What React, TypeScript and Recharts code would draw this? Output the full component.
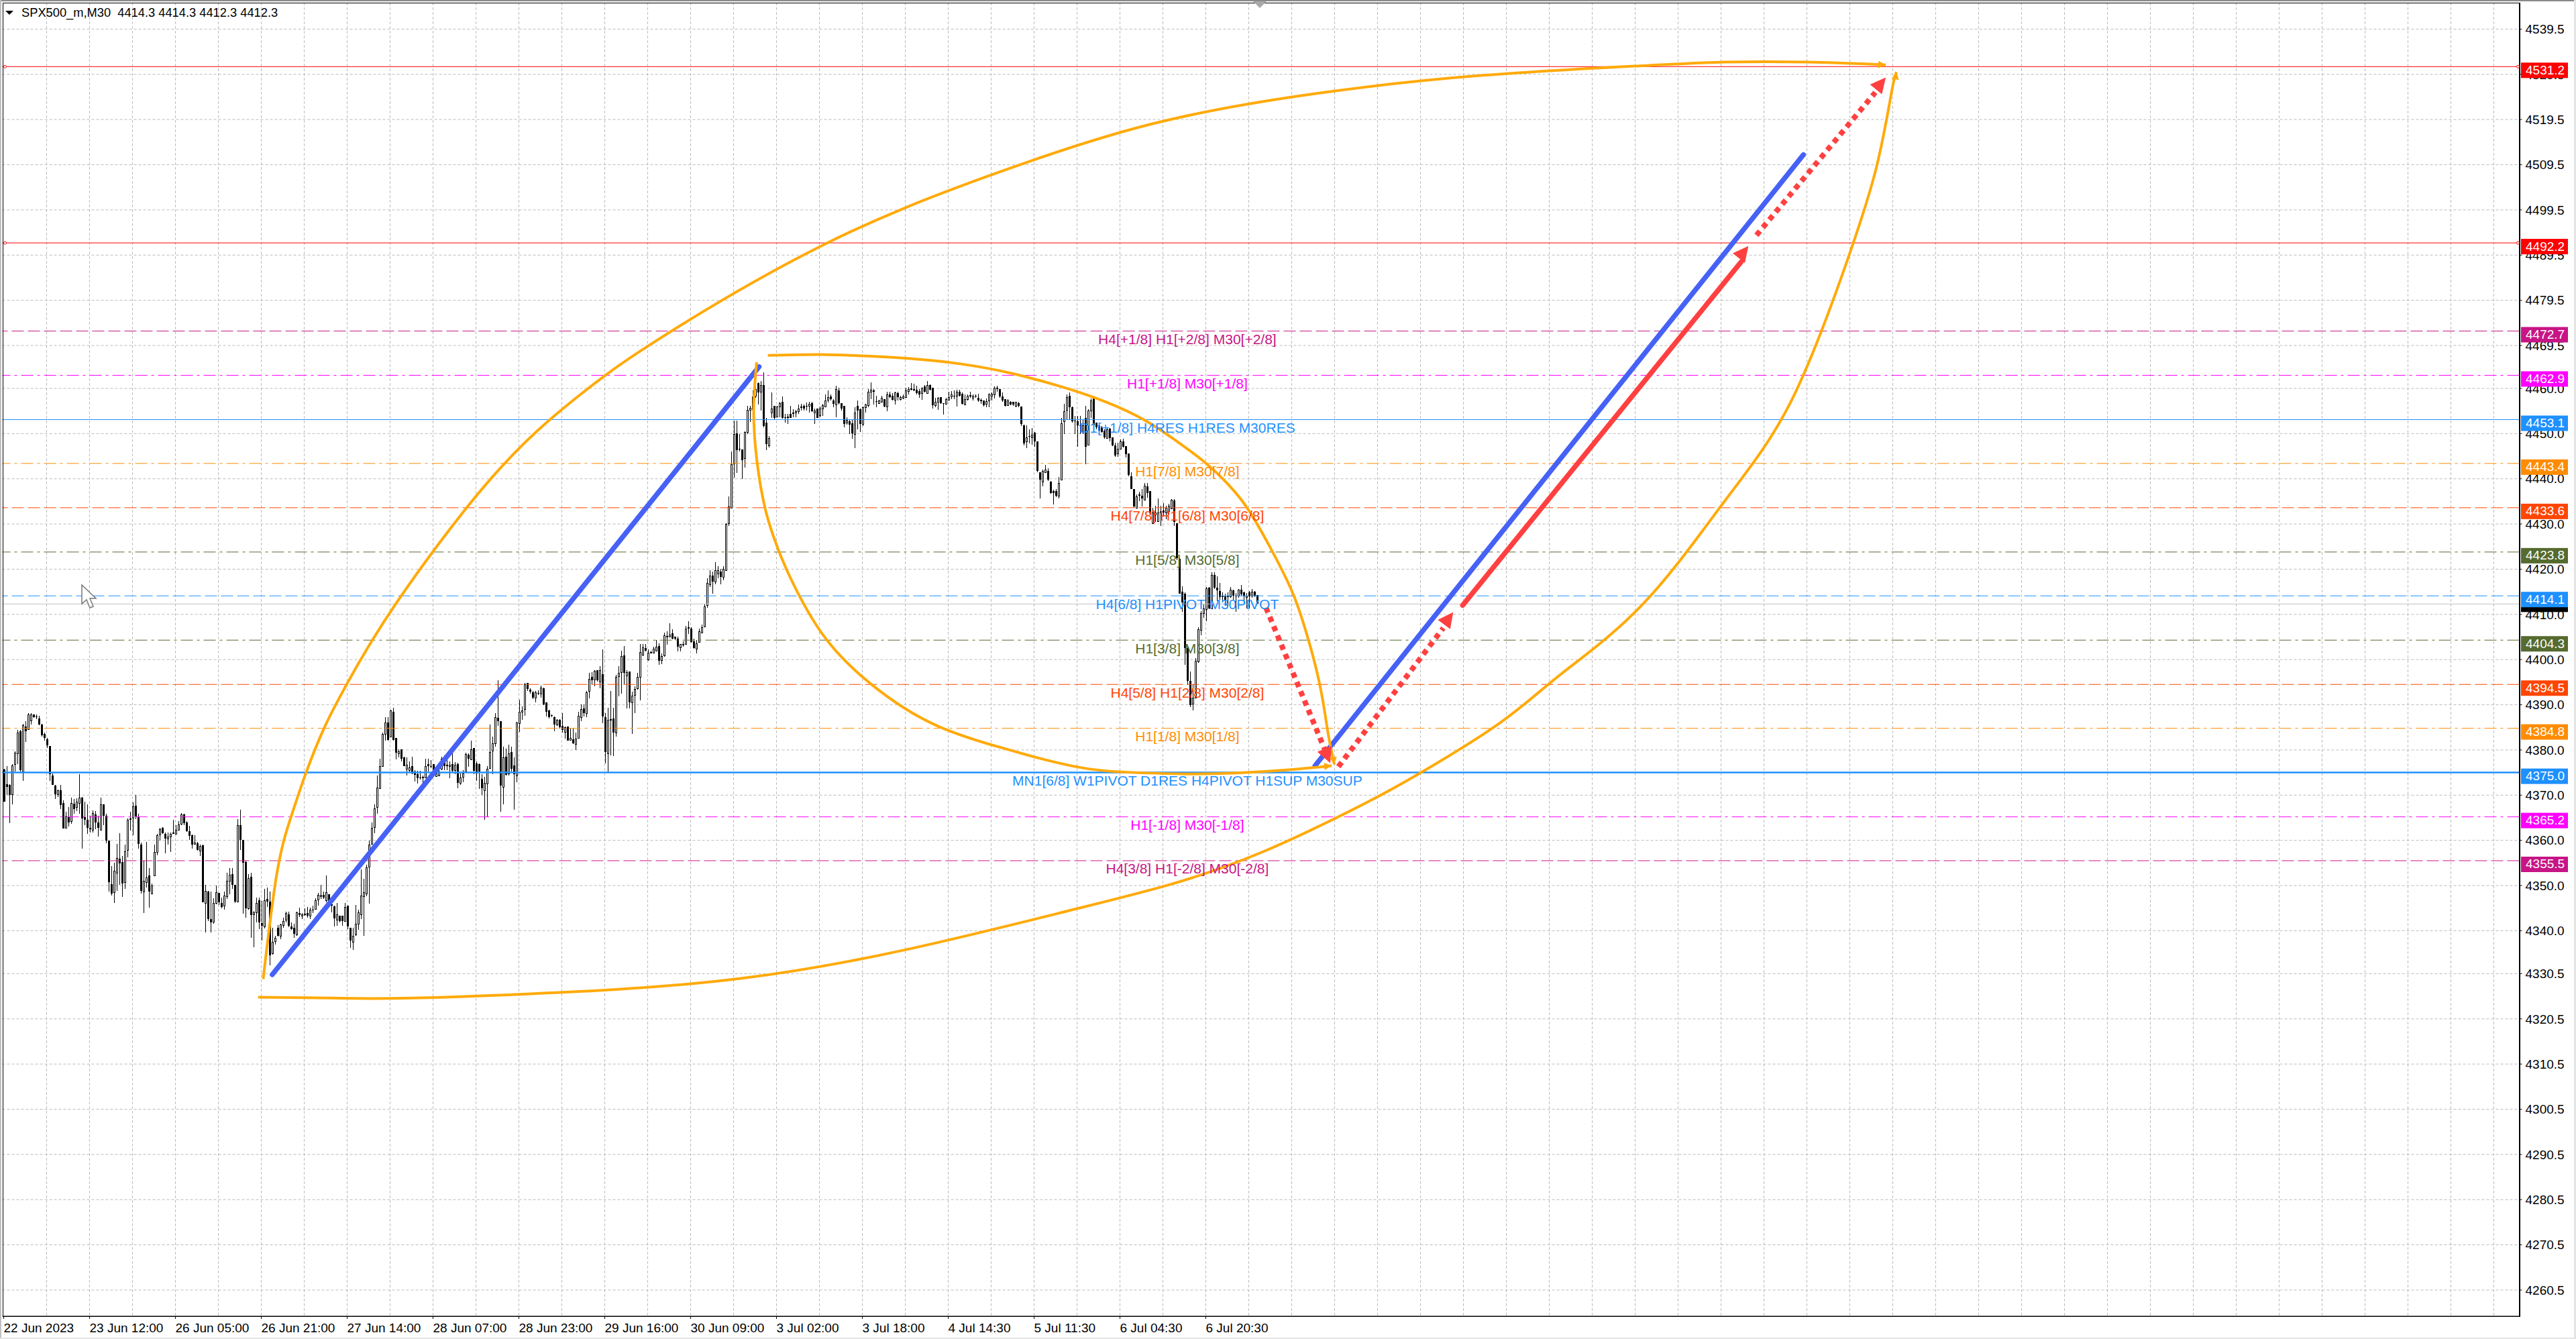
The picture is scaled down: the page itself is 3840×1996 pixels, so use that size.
import { Bar, CartesianGrid, ComposedChart, Line, ReferenceDot, ReferenceLine, XAxis, YAxis } from 'recharts';

type Candle = [number, number, number, number]; // open, high, low, close

const totalBars = 938;

const candles22Jun: Candle[] = [
  [4375.7,4375.8,4368.6,4368.6],[4372.4,4376.4,4370.0,4371.9],[4372.3,4372.4,4363.8,4370.0],[4370.2,4376.9,4367.9,4376.6],[4376.9,4379.7,4375.3,4379.4],
  [4379.3,4384.5,4376.8,4383.9],[4384.2,4384.5,4375.0,4375.5],[4375.2,4385.8,4373.1,4385.5],[4385.2,4386.4,4381.7,4384.1],[4384.6,4388.2,4384.6,4387.8],
  [4386.5,4388.2,4385.7,4387.9],[4387.8,4387.9,4387.1,4387.2],[4387.4,4387.9,4386.8,4387.2],[4386.9,4387.5,4385.5,4385.7],[4385.7,4385.8,4383.0,4383.2],
  [4383.6,4383.8,4382.0,4382.6],[4382.4,4382.6,4380.5,4381.1],[4380.9,4380.9,4373.1,4374.7],[4374.4,4374.8,4372.2,4372.2],[4372.1,4372.2,4369.1,4370.2],
  [4370.2,4371.3,4369.6,4371.1],[4371.1,4372.2,4366.9,4367.8],[4368.2,4368.9,4362.6,4362.6],[4362.7,4366.4,4362.6,4365.3],[4365.2,4367.4,4363.1,4364.0],
  [4364.2,4369.4,4363.7,4368.3],[4368.1,4369.1,4365.9,4367.0],[4367.4,4369.3,4366.5,4368.6],[4368.3,4374.7,4365.9,4369.4],[4369.4,4369.6,4358.2,4364.8],
  [4365.2,4368.6,4363.4,4364.5],[4364.5,4367.9,4361.5,4362.8],[4362.6,4365.4,4361.7,4362.8],[4362.4,4366.6,4361.8,4366.1],[4365.7,4366.5,4362.5,4363.9],
  [4364.0,4365.4,4360.9,4362.7],[4362.4,4369.5,4362.4,4367.9],[4368.0,4368.0,4363.4,4365.4],[4365.5,4365.9,4359.4,4360.0],[4359.9,4359.9,4348.6,4350.7],
  [4350.3,4354.3,4347.8,4348.2],[4348.5,4355.0,4346.1,4353.3],[4352.8,4359.2,4348.8,4356.1],[4356.0,4361.6,4350.2,4354.9],[4355.2,4356.5,4347.5,4350.5],
  [4350.7,4359.0,4349.2,4357.6],[4357.8,4364.9,4356.2,4364.6],[4364.8,4366.4,4362.2,4364.9],[4365.0,4368.4,4361.2,4367.5],[4367.7,4370.0,4364.7,4365.3],
  [4365.1,4365.9,4358.1,4359.2],[4359.1,4359.5,4348.2,4348.8],[4348.7,4355.5,4343.9,4351.0],[4350.8,4359.6,4349.6,4351.8],[4352.3,4353.8,4345.1,4348.6],
  [4348.2,4350.5,4348.2,4350.0],[4352.2,4359.0,4352.2,4357.4],[4357.4,4361.5,4356.7,4361.2],[4361.3,4362.8,4360.0,4362.5],[4362.8,4362.9,4361.4,4361.6],
  [4361.4,4361.8,4357.1,4360.4],[4360.4,4361.7,4359.0,4360.9],[4360.9,4361.7,4357.4,4361.4],[4361.7,4364.5,4361.4,4361.8],[4361.5,4363.4,4361.3,4362.4],
  [4362.4,4364.3,4362.3,4363.5],[4363.6,4366.1,4363.4,4365.7],[4365.7,4365.9,4363.4,4363.8],[4364.0,4364.3,4361.9,4362.1],[4362.0,4363.2,4360.1,4361.0],
  [4361.2,4361.3,4358.1,4359.0],[4359.2,4361.2,4359.0,4359.5],[4359.4,4359.7,4357.7,4357.8],[4357.7,4359.0,4356.6,4358.8],[4358.9,4359.0,4346.3,4346.3],
  [4346.1,4350.1,4339.6,4348.8],[4348.7,4348.8,4342.1,4342.6],[4342.6,4348.6,4339.6,4341.9],[4342.0,4347.2,4341.6,4346.2],[4346.1,4350.0,4345.8,4348.5],
  [4348.3,4348.3,4345.7,4346.3],[4346.1,4347.3,4345.0,4345.2],[4345.5,4348.6,4344.6,4347.8],[4347.7,4352.8,4347.1,4351.1],[4351.0,4353.8,4348.1,4352.4],
  [4352.5,4353.8,4349.2,4350.1],[4350.1,4350.1,4346.1,4346.5],[4346.5,4364.7,4346.5,4363.4],[4363.3,4366.8,4357.8,4360.1],[4360.1,4360.1,4343.7,4355.0],
  [4355.2,4355.5,4342.9,4344.9],[4345.0,4352.5,4344.6,4351.6],[4351.9,4352.8,4338.4,4343.5],[4343.6,4344.4,4336.4,4344.0],[4344.0,4347.3,4341.9,4346.2],
  [4346.8,4347.3,4340.4,4341.8],[4341.7,4346.6,4337.9,4341.1],[4340.9,4349.3,4340.5,4346.7],[4347.0,4349.5,4345.2,4346.5],[4346.4,4348.6,4332.3,4334.6],
];

const candles26Jun: Candle[] = [
  [4335.0,4340.6,4334.7,4337.6],[4337.7,4338.9,4336.9,4338.4],[4340.6,4341.2,4338.7,4338.8],[4338.9,4341.5,4338.2,4341.4],[4341.2,4342.9,4340.6,4342.1],
  [4342.4,4344.2,4341.9,4343.9],[4343.6,4344.2,4340.8,4341.1],[4341.0,4341.9,4340.2,4340.3],[4340.6,4341.6,4338.4,4339.3],[4339.2,4344.2,4338.9,4344.0],
  [4343.9,4345.1,4343.1,4343.5],[4343.3,4343.9,4342.6,4343.6],[4343.7,4344.9,4343.4,4343.5],[4343.9,4345.3,4342.9,4343.3],[4343.3,4345.1,4342.6,4344.7],
  [4344.7,4345.6,4343.9,4344.6],[4344.8,4347.2,4344.6,4346.8],[4346.9,4348.3,4345.6,4347.9],[4347.6,4350.2,4347.0,4347.9],[4347.9,4348.6,4347.1,4347.3],
  [4346.8,4352.3,4346.3,4348.5],[4348.1,4348.1,4346.1,4346.3],[4345.8,4346.1,4344.1,4345.6],[4345.4,4345.6,4340.9,4342.7],[4342.4,4346.1,4341.1,4343.6],
  [4343.4,4343.4,4341.9,4342.2],[4343.4,4343.4,4341.1,4342.1],[4342.2,4346.1,4342.1,4345.3],[4345.6,4345.6,4340.4,4340.9],[4340.6,4340.6,4336.2,4337.8],
  [4337.6,4340.6,4335.8,4338.8],[4339.1,4345.7,4338.9,4341.6],[4341.5,4344.7,4340.2,4344.0],[4343.6,4353.5,4342.6,4347.8],[4347.6,4351.5,4338.9,4348.5],
  [4348.2,4354.6,4347.6,4354.0],[4354.1,4360.0,4346.0,4359.1],[4359.2,4363.9,4359.0,4362.8],[4362.9,4367.9,4361.6,4367.1],[4367.3,4374.3,4365.9,4371.7],
  [4371.6,4378.0,4371.4,4376.4],[4376.5,4383.8,4376.3,4383.6],[4383.6,4387.2,4382.0,4386.1],[4386.1,4387.2,4382.0,4382.2],[4382.9,4388.9,4382.9,4388.7],
  [4388.5,4389.4,4382.0,4382.2],[4382.6,4382.6,4377.9,4379.4],[4379.2,4380.1,4378.4,4379.7],[4380.1,4380.2,4377.5,4378.1],[4378.4,4378.5,4376.4,4376.5],
  [4375.9,4378.3,4374.3,4376.7],[4375.5,4377.5,4375.0,4376.1],[4376.4,4378.5,4374.7,4374.8],[4375.3,4375.5,4373.0,4374.5],[4374.7,4375.4,4372.5,4373.7],
  [4373.9,4375.4,4373.5,4373.7],[4374.1,4374.3,4372.6,4373.8],[4373.9,4378.0,4373.9,4376.5],[4376.8,4378.1,4375.3,4376.5],[4376.5,4377.8,4376.0,4376.4],
  [4376.9,4376.9,4375.2,4375.3],[4374.2,4375.5,4374.1,4374.8],[4374.4,4376.0,4374.2,4375.2],[4375.8,4378.5,4375.5,4378.0],[4378.5,4378.8,4375.5,4376.5],
  [4376.7,4377.8,4375.5,4376.5],[4376.5,4377.5,4373.7,4376.7],[4376.8,4379.2,4375.0,4375.4],[4375.5,4377.3,4374.6,4376.7],[4376.8,4377.2,4371.6,4372.7],
  [4372.7,4374.8,4372.3,4373.9],[4374.0,4375.5,4372.8,4374.8],[4375.3,4379.4,4375.0,4379.1],[4379.0,4379.2,4376.3,4378.0],[4377.9,4382.1,4377.8,4380.2],
  [4380.5,4380.5,4374.6,4375.4],[4377.0,4377.5,4373.1,4374.8],[4376.9,4377.0,4371.4,4375.3],[4373.6,4374.7,4370.1,4371.5],[4371.1,4374.1,4364.5,4372.7],
  [4372.6,4376.5,4365.1,4375.9],[4376.0,4385.7,4375.9,4379.6],[4379.8,4383.0,4374.6,4381.5],[4381.5,4388.2,4380.7,4387.2],[4387.1,4395.5,4385.4,4386.3],
  [4386.4,4386.4,4366.4,4372.1],[4371.9,4380.7,4368.0,4378.4],[4378.5,4380.3,4374.4,4374.5],[4374.8,4381.2,4374.3,4379.3],[4379.5,4380.7,4375.2,4375.9],
  [4376.6,4378.3,4366.8,4374.7],[4374.3,4386.2,4372.8,4386.1],[4385.9,4391.1,4384.0,4388.5],[4388.4,4389.6,4386.7,4388.7],[4389.1,4394.8,4387.5,4394.6],
  [4394.8,4394.9,4393.0,4393.5],[4393.4,4393.7,4392.4,4392.9],[4392.8,4393.1,4391.2,4391.5],[4391.5,4393.1,4390.5,4392.8],[4392.6,4393.2,4392.2,4392.4],
];

const candles29Jun: Candle[] = [
  [4392.4,4394.3,4391.6,4393.8],[4393.6,4393.8,4390.0,4390.1],[4390.6,4390.6,4387.4,4388.4],[4388.8,4388.9,4386.9,4387.2],[4387.7,4387.8,4387.2,4387.5],
  [4387.3,4387.4,4384.1,4385.7],[4385.7,4386.8,4385.4,4386.6],[4386.6,4386.8,4384.8,4385.0],[4385.4,4388.2,4383.8,4384.5],[4384.0,4385.2,4382.5,4385.0],
  [4385.2,4385.2,4382.0,4382.1],[4382.2,4384.7,4382.0,4382.6],[4382.4,4384.7,4381.3,4381.5],[4381.3,4383.8,4380.0,4382.5],[4382.6,4388.5,4382.5,4387.6],
  [4387.3,4390.1,4386.4,4389.0],[4389.2,4390.1,4387.4,4388.1],[4388.2,4393.0,4387.3,4392.8],[4393.0,4397.1,4391.4,4395.7],[4396.1,4397.2,4394.6,4395.5],
  [4395.6,4397.6,4394.1,4397.5],[4397.7,4397.7,4395.1,4395.5],[4395.2,4398.6,4393.6,4397.7],[4396.8,4402.3,4385.9,4387.4],[4387.3,4388.2,4377.0,4379.5],
  [4379.3,4389.4,4375.0,4386.6],[4386.7,4393.1,4378.8,4386.8],[4387.0,4389.3,4378.7,4383.8],[4383.8,4396.6,4383.0,4396.2],[4396.3,4398.6,4391.9,4397.1],
  [4397.2,4402.0,4392.4,4400.8],[4400.9,4403.0,4394.5,4397.1],[4396.5,4397.6,4389.2,4397.2],[4397.3,4397.4,4389.2,4390.6],[4390.5,4392.9,4383.5,4392.0],
  [4392.1,4394.1,4388.2,4393.5],[4393.6,4397.1,4393.4,4396.2],[4396.1,4403.4,4391.0,4401.7],[4401.0,4403.4,4400.8,4402.7],[4402.6,4403.4,4401.8,4401.9],
  [4400.0,4402.3,4399.8,4401.5],[4401.7,4402.0,4401.3,4401.4],[4401.5,4402.8,4401.3,4402.4],[4401.9,4404.3,4401.9,4402.8],[4403.0,4403.6,4398.8,4399.8],
  [4399.9,4401.4,4399.0,4400.8],[4400.9,4406.0,4400.6,4405.3],[4405.2,4406.2,4403.3,4405.0],[4405.1,4408.1,4405.0,4405.5],[4405.8,4406.7,4404.5,4404.7],
  [4405.1,4405.1,4404.3,4404.7],[4404.6,4405.1,4401.8,4402.8],[4402.7,4403.5,4401.8,4403.4],[4403.4,4404.0,4402.8,4403.2],[4403.4,4407.5,4403.4,4406.9],
  [4407.1,4408.5,4405.7,4406.9],[4406.9,4407.1,4403.8,4403.9],[4404.0,4404.7,4402.4,4402.5],[4402.4,4404.3,4401.4,4403.6],[4403.9,4406.9,4403.8,4406.3],
  [4406.0,4407.7,4405.9,4407.1],[4407.3,4412.4,4407.2,4411.7],[4412.0,4418.0,4411.5,4416.9],[4416.6,4419.8,4416.1,4418.6],[4418.6,4419.5,4414.6,4417.2],
  [4417.2,4421.6,4416.6,4419.8],[4419.1,4420.6,4418.0,4419.7],[4419.5,4420.1,4416.6,4418.3],[4418.3,4420.6,4417.5,4420.0],[4419.8,4430.2,4419.6,4430.0],
  [4430.2,4436.1,4429.6,4433.8],[4433.6,4446.1,4433.5,4443.2],[4443.4,4452.9,4440.3,4449.9],[4450.0,4452.9,4441.3,4446.4],[4446.7,4449.9,4446.0,4446.5],
  [4446.5,4446.5,4440.0,4444.1],[4444.5,4450.5,4442.5,4450.4],[4450.3,4456.1,4449.9,4455.2],[4455.3,4456.1,4452.6,4455.7],[4455.4,4459.6,4454.6,4458.2],
  [4458.3,4460.3,4457.9,4459.8],[4461.2,4461.3,4456.4,4459.1],[4459.3,4461.6,4455.1,4460.8],[4460.7,4463.5,4451.4,4451.7],[4452.4,4453.5,4446.4,4447.7],
  [4447.4,4449.4,4447.0,4449.0],
];

const candles3Jul: Candle[] = [
  [4454.6,4459.1,4453.4,4455.6],[4456.1,4456.1,4453.1,4453.4],[4453.8,4456.1,4453.6,4456.0],[4456.0,4457.1,4453.6,4456.8],[4457.0,4458.2,4453.3,4453.4],
  [4453.6,4454.4,4452.4,4453.5],[4453.7,4454.4,4452.2,4453.5],[4454.4,4456.2,4453.4,4453.5],[4454.7,4455.4,4453.6,4454.4],[4454.6,4455.2,4453.6,4455.0],
  [4455.0,4456.4,4454.4,4455.6],[4456.0,4456.6,4455.1,4456.0],[4456.1,4456.4,4455.1,4455.6],[4456.2,4456.9,4455.1,4456.1],[4456.1,4457.1,4454.6,4456.6],
  [4456.7,4457.0,4454.8,4454.9],[4454.7,4455.6,4452.2,4455.1],[4455.5,4455.6,4453.5,4453.5],[4454.0,4456.0,4453.6,4455.6],[4455.5,4456.6,4453.9,4456.3],
  [4456.0,4458.7,4455.9,4457.3],[4457.5,4459.6,4456.9,4458.1],[4458.2,4458.6,4457.4,4457.6],[4457.4,4457.6,4455.9,4456.6],[4456.5,4460.6,4453.6,4459.9],
  [4459.5,4460.2,4456.5,4456.7],[4456.7,4456.7,4455.1,4455.6],[4456.1,4456.1,4451.4,4452.2],[4452.4,4453.6,4452.0,4453.0],[4452.7,4453.2,4449.9,4452.0],
  [4452.3,4453.2,4448.8,4450.0],[4449.9,4455.8,4446.8,4454.7],[4456.1,4457.3,4450.9,4455.1],[4455.4,4455.6,4450.3,4452.2],[4452.2,4456.0,4451.7,4455.8],
  [4455.9,4456.6,4454.6,4456.4],[4456.3,4459.9,4455.9,4459.2],[4459.3,4461.3,4457.6,4459.7],[4459.6,4459.8,4456.5,4459.3],[4457.2,4458.3,4455.8,4457.0],
  [4456.8,4457.5,4456.6,4457.3],[4457.1,4458.3,4457.0,4457.9],[4457.6,4457.6,4455.9,4456.0],[4456.0,4459.3,4455.0,4458.7],[4458.6,4459.2,4457.9,4458.1],
  [4458.3,4458.9,4457.4,4457.5],[4457.5,4459.3,4456.4,4459.1],[4459.0,4459.3,4457.4,4458.0],[4457.6,4458.4,4457.4,4458.1],[4457.9,4458.7,4457.6,4458.2],
  [4458.1,4460.1,4458.0,4459.6],[4459.4,4460.3,4458.7,4459.9],[4460.0,4461.2,4459.6,4459.7],[4459.8,4461.1,4459.4,4459.6],[4459.7,4460.6,4458.7,4458.9],
  [4459.4,4459.8,4457.9,4458.6],[4459.0,4460.3,4457.5,4460.0],[4460.4,4460.8,4459.1,4459.2],[4459.0,4461.6,4458.9,4460.8],[4460.8,4460.9,4459.6,4459.7],
  [4460.1,4460.1,4455.6,4456.3],[4456.3,4457.9,4455.9,4457.0],[4457.0,4458.1,4455.3,4457.9],[4458.1,4458.1,4456.6,4456.7],[4456.7,4456.7,4454.2,4456.6],
  [4456.6,4457.9,4456.4,4457.6],[4457.5,4459.3,4457.3,4458.1],[4458.2,4459.4,4457.6,4458.6],[4458.4,4459.6,4457.6,4458.2],[4458.3,4459.7,4456.0,4459.3],
  [4459.3,4459.7,4458.2,4458.4],[4458.8,4459.1,4456.4,4456.6],[4456.5,4458.6,4456.3,4457.6],[4457.6,4458.6,4457.3,4458.3],[4458.5,4459.3,4457.9,4458.2],
  [4457.9,4458.7,4457.4,4458.4],[4458.4,4458.6,4457.9,4458.2],[4457.9,4458.8,4457.1,4457.3],[4457.5,4457.8,4456.6,4457.2],[4457.3,4457.4,4456.0,4456.3],
  [4456.6,4457.8,4455.9,4457.2],[4457.4,4458.9,4455.9,4458.7],[4458.4,4459.1,4457.4,4458.8],[4458.7,4460.4,4457.8,4460.2],[4460.2,4460.6,4459.3,4459.9],
  [4459.8,4459.9,4457.9,4458.2],[4458.2,4459.1,4457.1,4457.3],[4457.6,4457.6,4456.0,4456.1],[4456.3,4457.6,4456.1,4457.3],[4457.1,4457.2,4456.3,4456.5],
  [4457.0,4457.1,4456.1,4456.5],[4456.1,4457.1,4455.9,4457.0],[4456.8,4457.1,4455.9,4456.1],
];

const candles5Jul: Candle[] = [
  [4456.0,4456.0,4451.7,4452.1],[4451.9,4452.0,4447.4,4447.9],[4448.2,4451.9,4446.8,4449.2],[4449.4,4450.9,4447.9,4449.3],[4449.2,4451.3,4447.5,4449.8],
  [4450.2,4450.4,4447.1,4448.3],[4448.2,4448.3,4441.5,4441.7],[4441.5,4441.5,4435.7,4439.8],[4439.4,4442.0,4438.3,4441.7],[4441.5,4443.1,4441.3,4442.0],
  [4441.8,4442.3,4439.5,4439.8],[4439.4,4439.5,4436.7,4436.8],[4437.3,4437.6,4434.3,4436.9],[4437.3,4437.8,4436.0,4436.2],[4436.2,4440.4,4435.6,4439.1],
  [4439.8,4453.5,4439.7,4452.3],[4452.7,4456.6,4449.9,4455.0],[4455.3,4458.6,4453.1,4458.1],[4458.3,4459.1,4453.1,4455.9],[4455.9,4456.0,4452.4,4452.7],
  [4452.9,4453.9,4449.9,4452.7],[4452.7,4453.9,4447.1,4451.8],[4451.9,4453.9,4449.9,4451.8],[4450.3,4453.0,4449.9,4451.9],[4453.5,4456.2,4443.2,4447.1],
  [4447.5,4455.4,4447.4,4455.1],[4455.1,4457.8,4453.4,4457.4],[4457.7,4457.7,4451.6,4451.9],[4452.4,4452.4,4450.9,4451.4],[4451.8,4452.2,4450.2,4450.7],
  [4451.4,4451.7,4450.2,4450.3],[4450.7,4451.0,4448.9,4449.1],[4449.0,4451.2,4448.8,4450.9],[4451.1,4451.2,4448.2,4449.0],[4449.2,4449.2,4447.2,4447.4],
  [4447.4,4448.0,4444.8,4445.2],[4445.6,4448.0,4444.9,4446.7],[4446.7,4448.7,4446.5,4448.2],[4448.2,4448.9,4447.0,4447.1],[4447.2,4447.2,4444.7,4445.5],
  [4445.6,4445.6,4440.5,4440.9],[4440.5,4441.4,4437.7,4437.8],[4437.7,4437.7,4433.6,4433.8],[4433.6,4436.6,4433.5,4436.1],[4436.5,4437.2,4435.1,4436.6],
  [4436.2,4437.8,4433.8,4435.6],[4435.3,4439.1,4435.2,4438.5],[4438.3,4439.0,4435.8,4436.8],[4437.3,4437.3,4432.1,4432.4],[4430.2,4433.6,4430.2,4432.6],
];

const candles6Jul: Candle[] = [
  [4432.1,4434.0,4430.4,4432.6],[4430.6,4435.7,4430.5,4432.6],[4432.6,4434.0,4429.6,4432.9],[4433.0,4434.6,4431.6,4432.5],[4432.6,4434.0,4431.1,4433.6],
  [4432.9,4434.5,4432.1,4434.0],[4433.5,4435.5,4433.3,4435.3],[4435.2,4435.5,4429.5,4430.4],[4430.1,4430.1,4422.0,4422.5],[4422.3,4422.5,4414.6,4414.6],
  [4415.0,4416.2,4410.5,4412.7],[4414.6,4414.9,4398.8,4402.5],[4402.5,4403.0,4394.4,4395.3],[4395.3,4397.3,4389.5,4390.0],[4390.2,4394.6,4388.8,4391.6],
  [4391.5,4400.3,4391.4,4399.7],[4399.6,4407.2,4399.3,4406.7],[4406.6,4410.7,4405.4,4410.3],[4410.3,4412.2,4409.2,4411.3],[4411.2,4416.1,4408.5,4415.8],
  [4415.9,4416.1,4411.2,4411.3],[4411.3,4419.3,4411.2,4418.8],[4418.8,4419.3,4415.6,4415.9],[4415.9,4418.4,4413.0,4415.3],[4415.1,4416.9,4413.2,4413.9],
  [4414.2,4414.9,4412.7,4413.9],[4414.0,4414.6,4411.9,4413.2],[4414.0,4414.9,4411.9,4414.2],[4414.0,4416.0,4413.7,4415.4],[4415.3,4415.5,4413.2,4414.2],
  [4414.2,4414.7,4410.5,4414.0],[4414.2,4415.6,4413.7,4415.4],[4415.5,4416.5,4414.2,4414.4],[4414.8,4415.0,4412.2,4414.0],[4413.9,4414.7,4411.3,4414.2],
  [4414.9,4415.1,4411.3,4414.0],[4414.2,4415.6,4413.7,4415.0],[4415.0,4415.2,4413.9,4414.1],[4414.3,4414.3,4412.3,4412.3],
];

const priceTicks = [
  4539.5, 4529.5, 4519.5, 4509.5, 4499.5, 4489.5, 4479.5, 4469.5, 4460, 4450, 4440, 4430, 4420, 4410, 4400, 4390, 4380, 4370,
  4360, 4350, 4340, 4330.5, 4320.5, 4310.5, 4300.5, 4290.5, 4280.5, 4270.5, 4260.5,
];
const dateTickBars = [0, 32, 64, 96, 128, 160, 192, 224, 256, 288, 320, 352, 384, 416, 448];
const dateTickLabels = [
  '22 Jun 2023', '23 Jun 12:00', '26 Jun 05:00', '26 Jun 21:00', '27 Jun 14:00', '28 Jun 07:00', '28 Jun 23:00', '29 Jun 16:00',
  '30 Jun 09:00', '3 Jul 02:00', '3 Jul 18:00', '4 Jul 14:30', '5 Jul 11:30', '6 Jul 04:30', '6 Jul 20:30',
];
const gridBars = Array.from({ length: 58 }, (_, i) => (i + 1) * 16);

// murrey / pivot levels
const levelPrices = [4531.2, 4492.2, 4472.7, 4462.9, 4453.1, 4443.4, 4433.6, 4423.8, 4414.1, 4404.3, 4394.5, 4384.8, 4375.0, 4365.2, 4355.5];
const levelTexts = [
  '', '', 'H4[+1/8] H1[+2/8] M30[+2/8]', 'H1[+1/8] M30[+1/8]', 'D1[+1/8] H4RES H1RES M30RES', 'H1[7/8] M30[7/8]', 'H4[7/8] H1[6/8] M30[6/8]',
  'H1[5/8] M30[5/8]', 'H4[6/8] H1PIVOT M30PIVOT', 'H1[3/8] M30[3/8]', 'H4[5/8] H1[2/8] M30[2/8]', 'H1[1/8] M30[1/8]',
  'MN1[6/8] W1PIVOT D1RES H4PIVOT H1SUP M30SUP', 'H1[-1/8] M30[-1/8]', 'H4[3/8] H1[-2/8] M30[-2/8]',
];
const levelColors = ['#ff0000', '#ff0000', '#c71585', '#ff00ff', '#1e90ff', '#ff8c00', '#ff4500', '#556b2f', '#1e90ff', '#556b2f', '#ff4500', '#ff8c00', '#1e90ff', '#ff00ff', '#c71585'];
const levelDashes = ['', '', '18 6', '18 6 4 6', '', '18 6 4 6', '18 6', '18 6 4 6', '18 6', '18 6 4 6', '18 6', '18 6 4 6', '', '18 6 4 6', '18 6'];
const bidPrice = 4412.3;
const labelBar = 441.1;

// hand drawn curves, [bar, price]
const topArc = [
  [96.7, 4329.3], [101.9, 4353.0], [107.2, 4365.4], [112.7, 4375.0], [119.7, 4385.2], [127.9, 4394.6], [146.2, 4412.4],
  [182.4, 4440.6], [212.9, 4457.7], [243.6, 4470.7], [304.6, 4491.5], [366, 4506.8], [427.1, 4518.4], [488.4, 4525.2], [549.6, 4529.2], [610.9, 4531.4],
  [641.4, 4532.2], [672.2, 4532.2], [701.4, 4531.6],
];
const innerUpperArc = [
  [284.8, 4467.3], [304.2, 4467.5], [319.9, 4467.2], [337.7, 4466.6], [356.9, 4465.4], [375.9, 4463.3], [395.2, 4460.2], [411.2, 4456.9],
  [425.4, 4452.9], [437.9, 4448.0], [448.7, 4443.1], [458.7, 4437.2], [465.4, 4431.7], [472.9, 4423.8], [479.9, 4415.4], [484.4, 4408.0],
  [488.7, 4399.0], [491.7, 4390.6], [493.7, 4383.2], [495.9, 4376.8],
];
const innerLowerArc = [
  [280.6, 4465.8], [279.5, 4455.4], [280.7, 4444.0], [283.7, 4433.6], [286.9, 4427.2], [291.7, 4420.0], [304.7, 4406.0], [323.2, 4394.6],
  [347.7, 4385.4], [373.7, 4380.2], [383.2, 4378.6], [402.4, 4376.0], [421.4, 4375.0], [440.7, 4374.7], [459.7, 4374.9], [478.9, 4375.6], [494.9, 4376.5],
];
const bottomArc = [
  [94.8, 4325.3], [122.9, 4325.1], [151.7, 4325.1], [212.9, 4326.5], [274.2, 4329.4], [335.4, 4335.7], [396.7, 4344.4], [433.9, 4350.1],
  [469.4, 4357.5], [507.7, 4368.3], [527.9, 4374.9], [556.9, 4385.7], [580.4, 4396.8],
  [610.9, 4412.3], [641.4, 4435.1], [665.9, 4456.9], [686.1, 4486.7], [697.9, 4508.9], [703.6, 4525.7], [705.4, 4530.0],
];

const candles = [...candles22Jun, ...candles26Jun, ...candles29Jun, ...candles3Jul, ...candles5Jul, ...candles6Jul];
const chartRows = Array.from({ length: totalBars }, (_, bar) => {
  const c = candles[bar];
  return c ? { bar, open: c[0], high: c[1], low: c[2], close: c[3] } : { bar };
});
const toPoints = (arc: number[][]) => arc.map(([bar, price]) => ({ bar, price }));

const FONT = '"Liberation Sans", Arial, sans-serif';
const ORANGE = '#ffaa0a';
const BLUE = '#4661f5';
const RED = '#ff4040';

function CandleShape(props: any) {
  const { x, y, width, height, payload } = props;
  if (!payload || payload.open == null) return null;
  const k = height / Math.max(payload.high - payload.low, 0.01);
  const cx = Math.floor(x + width / 2) + 0.5;
  const up = payload.close >= payload.open;
  const top = Math.round(y + (payload.high - Math.max(payload.open, payload.close)) * k);
  const bottom = Math.round(y + (payload.high - Math.min(payload.open, payload.close)) * k);
  return (
    <g shapeRendering="crispEdges">
      <line x1={cx} x2={cx} y1={y} y2={y + height} stroke="#000" strokeWidth={1} />
      {up ? (
        <rect x={cx - 1} y={top + 0.5} width={2} height={Math.max(bottom - top, 1)} fill="#fff" stroke="#000" strokeWidth={1} />
      ) : (
        <rect x={cx - 1.5} y={top} width={3} height={Math.max(bottom - top, 1)} fill="#000" />
      )}
    </g>
  );
}

function Tag({ cy, color, text, height = 23 }: any) {
  return (
    <g>
      <rect x={3758} y={cy - 6} width={70} height={height} fill={color} />
      <text x={3765} y={cy + 5} dominantBaseline="central" fontFamily={FONT} fontSize={19} fill="#fff">{text}</text>
    </g>
  );
}

function LevelText({ cx, cy, color, text }: any) {
  return (
    <text x={cx} y={cy + 12} textAnchor="middle" dominantBaseline="central" fontFamily={FONT} fontSize={21} fill={color}>{text}</text>
  );
}

function Head({ cx, cy, angle, length, spread, color }: any) {
  return (
    <polygon
      points={`0,0 ${-length},${spread / 2} ${-length},${-spread / 2}`}
      transform={`translate(${cx} ${cy}) rotate(${angle})`}
      fill={color}
    />
  );
}

function DateTick({ x, y, payload }: any) {
  return (
    <text x={x} y={y + 11} dominantBaseline="central" fontFamily={FONT} fontSize={19} fill="#000">
      {dateTickLabels[dateTickBars.indexOf(payload.value)]}
    </text>
  );
}

function seg(a: number[], b: number[]) {
  return [{ x: a[0], y: a[1] }, { x: b[0], y: b[1] }];
}

export default function App() {
  return (
    <div style={{ position: 'absolute', left: 0, top: 0, width: 3840, height: 1996, background: '#fff', overflow: 'hidden' }}>
      <ComposedChart
        width={3840}
        height={1996}
        data={chartRows}
        margin={{ top: 4, right: 0, bottom: 0, left: 3.5 }}
      >
        <XAxis xAxisId="candle" dataKey="bar" type="category" height={0} hide />
        <XAxis
          xAxisId="num"
          dataKey="bar"
          type="number"
          domain={[-0.5, 937.5]}
          allowDataOverflow
          ticks={dateTickBars}
          interval={0}
          height={34}
          tick={<DateTick />}
          tickSize={4}
          axisLine={{ stroke: '#000', strokeWidth: 1 }}
          tickLine={{ stroke: '#000' }}
        />
        <YAxis
          orientation="right"
          type="number"
          domain={[4254.71, 4545.35]}
          allowDataOverflow
          ticks={priceTicks}
          interval={0}
          width={84.5}
          tickFormatter={(v: number) => v.toFixed(1)}
          tick={{ fill: '#000', fontFamily: FONT, fontSize: 19 }}
          tickSize={4}
          tickMargin={5}
          axisLine={{ stroke: '#000', strokeWidth: 1 }}
          tickLine={{ stroke: '#000' }}
        />
        <CartesianGrid
          xAxisId="num"
          stroke="#bbbbbb"
          strokeDasharray="4 3"
          verticalValues={gridBars}
          horizontalValues={priceTicks}
        />

        {levelPrices.map((p, i) => (
          <ReferenceLine
            key={p}
            xAxisId="num"
            y={p}
            stroke={levelColors[i]}
            strokeWidth={p === 4375.0 ? 2.5 : 1}
            strokeDasharray={levelDashes[i]}
          />
        ))}
        <ReferenceLine xAxisId="num" y={bidPrice} stroke="#c0c0c0" strokeWidth={1} />

        <Bar
          xAxisId="candle"
          dataKey={(d: any) => (d.high == null ? null : [d.low, d.high])}
          barSize={3}
          shape={<CandleShape />}
          isAnimationActive={false}
        />

        {levelTexts.map((t, i) =>
          t ? (
            <ReferenceDot
              key={t}
              xAxisId="num"
              x={labelBar}
              y={levelPrices[i]}
              ifOverflow="visible"
              shape={<LevelText color={levelColors[i]} text={t} />}
            />
          ) : null,
        )}

        <ReferenceLine xAxisId="num" segment={seg([100.1, 4330.3], [281.5, 4464.8])} stroke={BLUE} strokeWidth={7.5} strokeLinecap="round" />
        <ReferenceLine xAxisId="num" segment={seg([488.7, 4376.5], [670.7, 4511.7])} stroke={BLUE} strokeWidth={7.5} strokeLinecap="round" />
        <ReferenceLine xAxisId="num" segment={seg([543.7, 4412.0], [647.5, 4488.0])} stroke={RED} strokeWidth={7.5} strokeLinecap="round" />
        <ReferenceLine xAxisId="num" segment={seg([470.4, 4411.5], [492.4, 4380.0])} stroke={RED} strokeWidth={8} strokeDasharray="8 7" />
        <ReferenceLine xAxisId="num" segment={seg([497.4, 4376.3], [536.5, 4407.0])} stroke={RED} strokeWidth={8} strokeDasharray="8 7" />
        <ReferenceLine xAxisId="num" segment={seg([653.2, 4493.9], [697.5, 4525.5])} stroke={RED} strokeWidth={8} strokeDasharray="8 7" />
        <ReferenceDot xAxisId="num" x={494.4} y={4377.1} ifOverflow="visible" shape={<Head angle={67.5} length={23} spread={23} color={RED} />} />
        <ReferenceDot xAxisId="num" x={540.2} y={4410.5} ifOverflow="visible" shape={<Head angle={-53.4} length={23} spread={23} color={RED} />} />
        <ReferenceDot xAxisId="num" x={650.2} y={4491.5} ifOverflow="visible" shape={<Head angle={-51.5} length={23} spread={23} color={RED} />} />
        <ReferenceDot xAxisId="num" x={701.4} y={4528.8} ifOverflow="visible" shape={<Head angle={-50.5} length={23} spread={23} color={RED} />} />

        {[topArc, innerUpperArc, innerLowerArc, bottomArc].map((arc, i) => (
          <Line
            key={i}
            xAxisId="num"
            data={toPoints(arc)}
            dataKey="price"
            type="natural"
            stroke={ORANGE}
            strokeWidth={4}
            dot={false}
            legendType="none"
            isAnimationActive={false}
          />
        ))}
        <ReferenceDot xAxisId="num" x={701.4} y={4531.6} ifOverflow="visible" shape={<Head angle={2} length={11} spread={11} color={ORANGE} />} />
        <ReferenceDot xAxisId="num" x={495.9} y={4376.8} ifOverflow="visible" shape={<Head angle={80} length={11} spread={11} color={ORANGE} />} />
        <ReferenceDot xAxisId="num" x={494.9} y={4376.5} ifOverflow="visible" shape={<Head angle={-5} length={11} spread={11} color={ORANGE} />} />
        <ReferenceDot xAxisId="num" x={705.4} y={4530.0} ifOverflow="visible" shape={<Head angle={-80} length={11} spread={11} color={ORANGE} />} />

        {[0, 1].map((i) => (
          <g key={i}>
            <ReferenceDot xAxisId="num" x={0.5} y={levelPrices[i]} ifOverflow="visible" r={2} fill="#fff" stroke="#ff0000" />
            <ReferenceDot xAxisId="num" x={937} y={levelPrices[i]} ifOverflow="visible" r={2} fill="#fff" stroke="#ff0000" />
          </g>
        ))}

        <ReferenceDot xAxisId="num" zIndex={3000} x={937} y={bidPrice} ifOverflow="visible" shape={<Tag color="#000" text="" height={18} />} />
        {levelPrices.map((p, i) => (
          <ReferenceDot
            key={p}
            xAxisId="num"
            zIndex={3000}
            x={937}
            y={p}
            ifOverflow="visible"
            shape={<Tag color={levelColors[i]} text={p.toFixed(1)} />}
          />
        ))}
      </ComposedChart>

      <div style={{ position: 'absolute', left: 4, top: 4, width: 3751, height: 1957, border: '1px solid #000', pointerEvents: 'none' }} />
      <div style={{ position: 'absolute', left: 0, top: 0, width: 3840, height: 2, background: '#8a8a8a' }} />
      <div style={{ position: 'absolute', left: 0, top: 0, width: 2, height: 1996, background: '#c0c0c0' }} />
      <div style={{ position: 'absolute', left: 3837, top: 0, width: 3, height: 1996, background: '#e4e4e4' }} />
      <div style={{ position: 'absolute', left: 0, top: 1994, width: 3840, height: 2, background: '#e4e4e4' }} />
      <div style={{ position: 'absolute', left: 1868, top: 2, width: 0, height: 0, borderLeft: '10px solid transparent', borderRight: '10px solid transparent', borderTop: '10px solid #a8a8a8' }} />
      <div style={{ position: 'absolute', left: 8, top: 16, width: 0, height: 0, borderLeft: '6.5px solid transparent', borderRight: '6.5px solid transparent', borderTop: '6px solid #000' }} />
      <div style={{ position: 'absolute', left: 32, top: 8, fontFamily: FONT, fontSize: 18.3, lineHeight: '22px', whiteSpace: 'pre', color: '#000' }}>
        {'SPX500_m,M30  4414.3 4414.3 4412.3 4412.3'}
      </div>
      <svg style={{ position: 'absolute', left: 120, top: 870 }} width={30} height={40}>
        <path d="M2 2 L2 30 L9 24 L14 36 L19 34 L14 22 L23 22 Z" fill="#fff" stroke="#777" strokeWidth={1.5} />
      </svg>
    </div>
  );
}
